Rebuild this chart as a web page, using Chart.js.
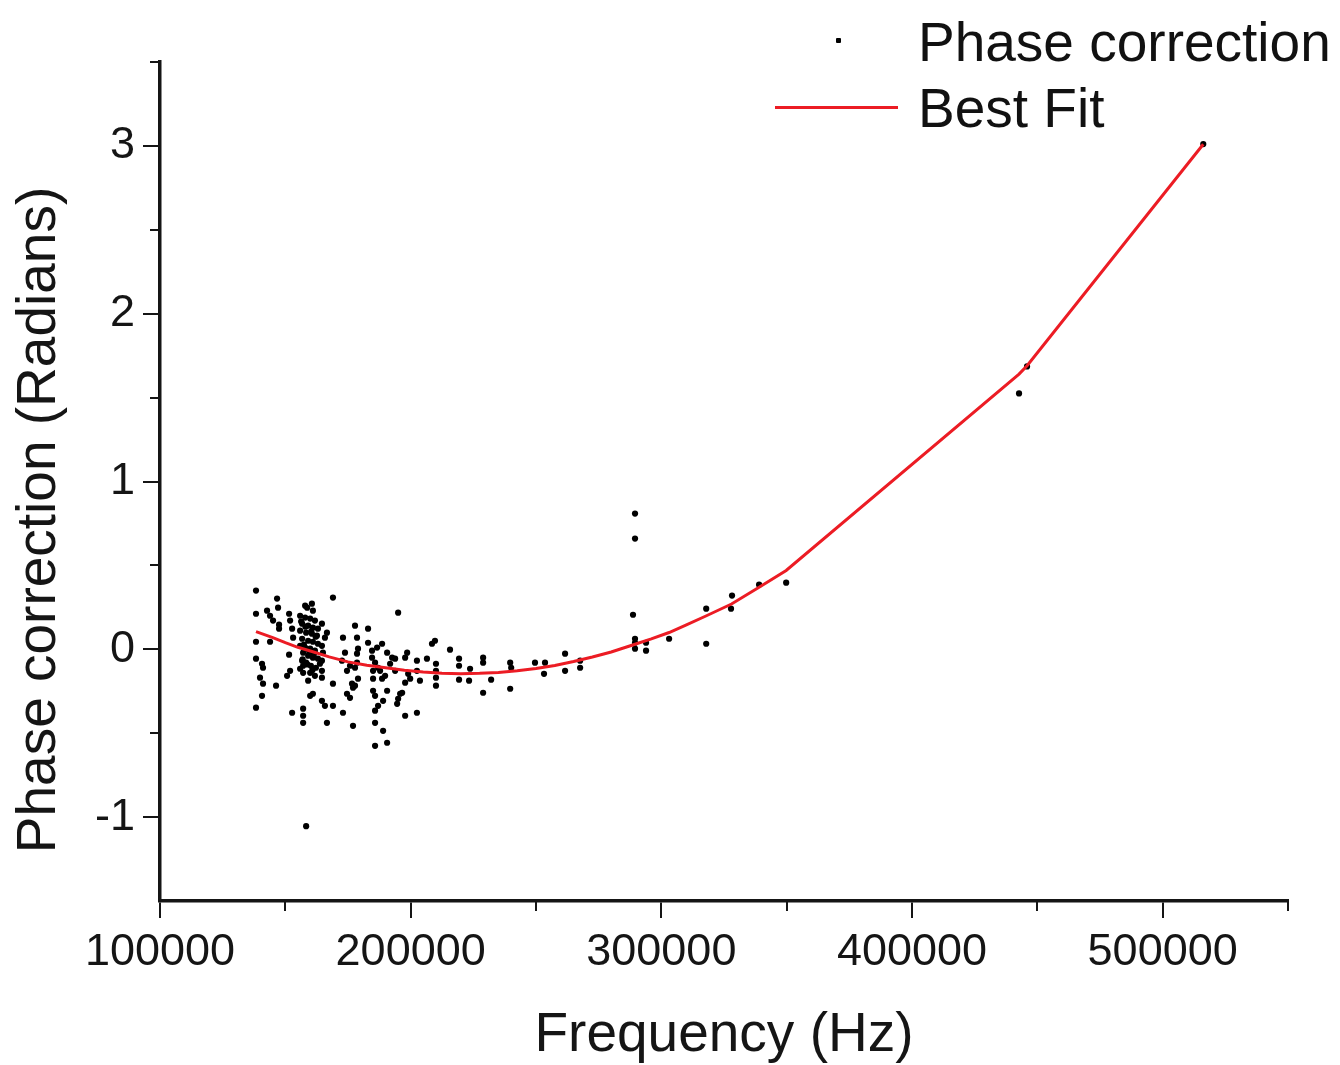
<!DOCTYPE html>
<html>
<head>
<meta charset="utf-8">
<script src="https://cdn.jsdelivr.net/npm/chart.js@4.4.1/dist/chart.umd.min.js"></script>
<style>
html,body{margin:0;padding:0;background:#fff;}
#wrap{position:relative;width:1340px;height:1065px;overflow:hidden;}
canvas{display:block;}
.leg{position:absolute;font-family:"Liberation Sans",Arial,Helvetica,sans-serif;font-size:55px;line-height:55px;color:#111;white-space:nowrap;}
.mk{position:absolute;background:#000;}
</style>
</head>
<body>
<div id="wrap">
<canvas id="c" width="1340" height="1065"></canvas>
</div>
<script>
// ---- data ----
const seriesNames = ['Phase correction', 'Best Fit'];
const xTitle = 'Frequency (Hz)';
const yTitle = 'Phase correction (Radians)';

const xMajorTicks = [100000, 200000, 300000, 400000, 500000];
const xMinorTicks = [150000, 250000, 350000, 450000, 550000];
const yMajorTicks = [-1, 0, 1, 2, 3];
const yMinorTicks = [-0.5, 0.5, 1.5, 2.5, 3.5];

const freqHz = [
 138300,138300,138300,138300,140700,141100,139900,141100,140700,138300,
 142700,143900,145100,146700,147100,147500,147500,143900,146300,151500,
 151900,152700,153100,151500,150700,151900,152700,157100,157100,157100,
 156700,157100,157100,159100,159900,161000,158700,160600,161000,157900,
 155900,157900,159900,161800,156700,159100,161000,163000,155900,158300,
 160600,162600,156700,159100,161000,163000,155900,157900,159900,161800,
 157100,159100,161000,163000,158300,160200,162200,155900,159900,161800,
 164600,166600,165800,164600,165000,164600,163800,164600,164600,169000,
 164600,165800,166600,169000,169000,173000,173800,172600,174600,175800,
 176600,177000,174600,175800,173000,177000,177800,178600,179000,178600,
 178600,177800,179000,177800,183000,183000,184600,186600,188600,184600,
 185800,187000,185000,185000,185000,185800,187800,188600,189800,190600,
 192600,191800,193800,193800,190600,189000,187000,185800,195800,195000,
 194600,185800,189000,190600,185800,195000,198600,197800,202500,202500,
 197800,202500,199000,199800,197800,196600,203700,206500,208500,209700,
 210100,210100,210100,210100,215700,219300,219300,219300,223700,223300,
 228900,228900,228900,232100,239700,240100,239700,249600,253600,253200,
 261600,261600,267600,267600,288700,289500,289500,289500,289500,289500,
 293900,293900,303100,317900,317900,327800,328200,339000,349800,442700,
 445900,516200,158300,
 156300,158000,160300,162100,157400,159500,161400,156900,158800,160800
];
const phaseRad = [
 0.350,0.212,0.045,-0.056,-0.086,-0.110,-0.169,-0.205,-0.277,-0.348,
 0.230,0.200,0.171,0.302,0.248,0.147,0.123,0.045,-0.217,0.212,
 0.171,0.123,0.069,-0.032,-0.158,-0.128,-0.378,-0.354,-0.396,-0.438,
 -0.068,-0.098,-0.140,-0.187,-0.277,-0.265,0.248,0.272,0.230,0.260,
 0.200,0.189,0.183,0.171,0.153,0.141,0.129,0.123,0.111,0.099,
 0.093,0.081,0.063,0.051,0.045,0.033,0.021,0.010,0.004,-0.008,
 -0.020,-0.038,-0.050,-0.056,-0.080,-0.098,-0.110,-0.116,-0.140,-0.158,
 0.153,0.099,0.069,0.021,-0.020,-0.068,-0.086,-0.128,-0.169,-0.205,
 -0.307,-0.337,-0.438,0.308,-0.337,0.069,-0.020,-0.068,-0.128,-0.098,
 -0.205,-0.229,-0.265,-0.289,-0.378,-0.456,0.141,0.069,0.004,-0.026,
 -0.080,-0.110,-0.175,-0.217,0.123,0.039,-0.008,0.010,0.033,-0.050,
 -0.080,-0.110,-0.128,-0.175,-0.247,-0.277,-0.128,-0.175,-0.158,-0.020,
 -0.050,-0.086,-0.056,-0.128,-0.247,-0.307,-0.337,-0.366,-0.265,-0.295,
 -0.325,-0.438,-0.486,-0.557,-0.575,0.218,-0.020,-0.050,-0.068,-0.128,
 -0.396,-0.378,-0.146,-0.175,-0.199,-0.259,-0.187,-0.056,0.033,0.051,
 -0.086,-0.128,-0.169,-0.217,-0.002,-0.056,-0.098,-0.181,-0.116,-0.187,
 -0.050,-0.080,-0.259,-0.181,-0.080,-0.110,-0.235,-0.080,-0.080,-0.146,
 -0.026,-0.128,-0.068,-0.110,0.206,0.809,0.660,0.063,0.039,0.004,
 0.039,-0.008,0.063,0.242,0.033,0.242,0.320,0.385,0.397,1.525,
 1.686,3.011,-1.054,
 0.165,0.135,0.105,0.075,0.028,-0.012,-0.030,-0.060,-0.090,-0.125
];

const fitHz  = [138300,145000,150000,155000,160000,167500,175000,182500,190000,197500,205000,212500,220000,227500,235000,242500,250000,257500,265000,272500,280000,289500,296000,303100,310000,318000,328000,339000,349800,442700,445900,516200];
const fitRad = [0.105,0.07,0.04,0.012,-0.01,-0.045,-0.075,-0.095,-0.11,-0.125,-0.135,-0.142,-0.145,-0.143,-0.138,-0.128,-0.115,-0.096,-0.073,-0.046,-0.016,0.03,0.062,0.10,0.145,0.20,0.27,0.37,0.47,1.64,1.69,3.01];

// ---- build ----
const FONT = '"Liberation Sans", Arial, Helvetica, sans-serif';
const INK = '#151515';
const RED = '#ec1c24';

const scatterPts = freqHz.map((f, i) => ({x: f, y: phaseRad[i]}));
const fitPts = fitHz.map((f, i) => ({x: f, y: fitRad[i]}));

const extras = {
  id: 'extras',
  afterDraw(chart) {
    const {ctx, chartArea, scales: {x, y}} = chart;
    ctx.save();
    ctx.strokeStyle = INK;
    ctx.lineWidth = 2;
    for (const v of xMinorTicks) {
      const px = Math.round(x.getPixelForValue(v));
      ctx.beginPath(); ctx.moveTo(px, chartArea.bottom); ctx.lineTo(px, chartArea.bottom + 10); ctx.stroke();
    }
    for (const v of yMinorTicks) {
      const py = Math.round(y.getPixelForValue(v));
      ctx.beginPath(); ctx.moveTo(chartArea.left, py); ctx.lineTo(chartArea.left - 10, py); ctx.stroke();
    }
    // y axis title
    ctx.fillStyle = INK;
    ctx.font = '55px ' + FONT;
    ctx.textAlign = 'center';
    ctx.textBaseline = 'middle';
    ctx.translate(40, 520);
    ctx.rotate(-Math.PI / 2);
    ctx.fillText(yTitle, 0, 0);
    ctx.restore();
  }
};

new Chart(document.getElementById('c'), {
  type: 'scatter',
  data: {
    datasets: [
      {
        label: seriesNames[0],
        data: scatterPts,
        pointRadius: 3.1,
        pointHoverRadius: 3.1,
        pointBackgroundColor: '#000',
        pointBorderWidth: 0,
        showLine: false,
        order: 2
      },
      {
        label: seriesNames[1],
        data: fitPts,
        showLine: true,
        borderColor: RED,
        borderWidth: 3,
        pointRadius: 0,
        tension: 0,
        fill: false,
        order: 1
      }
    ]
  },
  options: {
    responsive: false,
    animation: false,
    devicePixelRatio: 1,
    layout: {padding: {top: 62, right: 52, left: 0, bottom: 0}},
    plugins: {legend: {display: false}, tooltip: {enabled: false}},
    scales: {
      x: {
        type: 'linear',
        min: 100000, max: 550000,
        afterFit(s) { s.height = 164; },
        ticks: {
          stepSize: 50000,
          autoSkip: false,
          maxRotation: 0,
          padding: 8,
          color: INK,
          font: {family: FONT, size: 45},
          callback: v => xMajorTicks.includes(v) ? String(v) : ''
        },
        grid: {
          drawOnChartArea: false,
          drawTicks: true,
          tickLength: 17,
          tickWidth: 2,
          lineWidth: 2,
          tickColor: ctx => xMajorTicks.includes(ctx.tick && ctx.tick.value) ? INK : 'rgba(0,0,0,0)'
        },
        border: {display: true, color: INK, width: 3.5},
        title: {display: true, text: xTitle, color: INK, font: {family: FONT, size: 55, lineHeight: 1}, padding: {top: 0, bottom: 2}}
      },
      y: {
        type: 'linear',
        min: -1.5, max: 3.5,
        afterFit(s) { s.width = 160; },
        ticks: {
          stepSize: 0.5,
          autoSkip: false,
          padding: 8,
          color: INK,
          font: {family: FONT, size: 45},
          callback: v => yMajorTicks.includes(v) ? String(v) : ''
        },
        grid: {
          drawOnChartArea: false,
          drawTicks: true,
          tickLength: 17,
          tickWidth: 2,
          lineWidth: 2,
          tickColor: ctx => yMajorTicks.includes(ctx.tick && ctx.tick.value) ? INK : 'rgba(0,0,0,0)'
        },
        border: {display: true, color: INK, width: 3.5}
      }
    }
  },
  plugins: [extras]
});

// legend (HTML overlay)
const wrap = document.getElementById('wrap');
const l1 = document.createElement('div'); l1.className = 'leg'; l1.style.left = '918px'; l1.style.top = '15px'; l1.textContent = seriesNames[0]; wrap.appendChild(l1);
const l2 = document.createElement('div'); l2.className = 'leg'; l2.style.left = '918px'; l2.style.top = '81px'; l2.textContent = seriesNames[1]; wrap.appendChild(l2);
const m1 = document.createElement('div'); m1.className = 'mk'; Object.assign(m1.style, {left: '836px', top: '38px', width: '5px', height: '5px', borderRadius: '1px'}); wrap.appendChild(m1);
const m2 = document.createElement('div'); m2.className = 'mk'; Object.assign(m2.style, {left: '775px', top: '106px', width: '123px', height: '3px', background: RED}); wrap.appendChild(m2);
</script>
</body>
</html>
